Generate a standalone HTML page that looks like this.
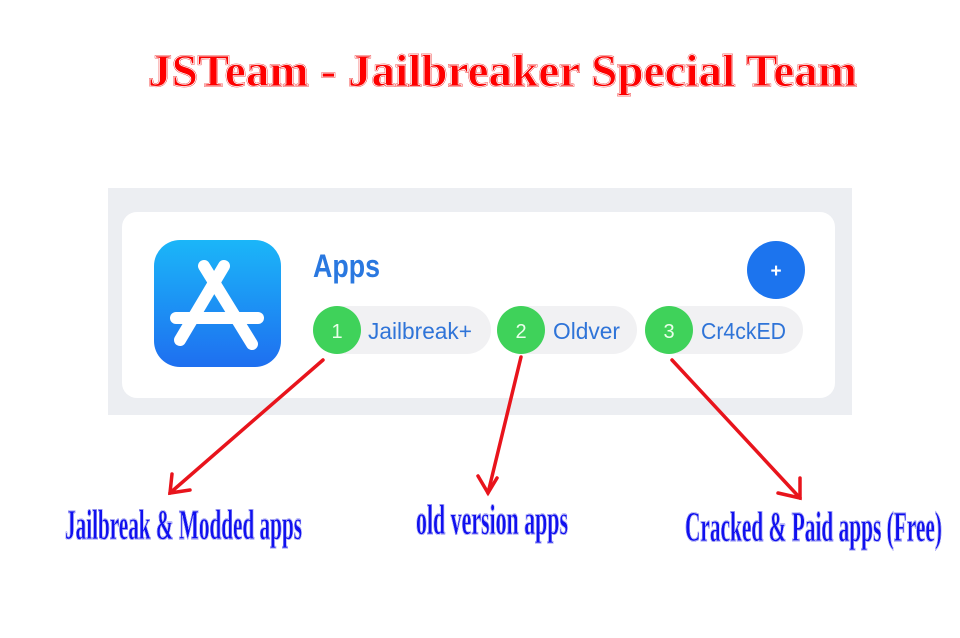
<!DOCTYPE html>
<html><head><meta charset="utf-8"><style>
html,body{margin:0;padding:0;background:#fff;width:960px;height:638px;overflow:hidden}
</style></head><body>
<svg width="960" height="638" viewBox="0 0 960 638" xmlns="http://www.w3.org/2000/svg">
<defs>
<linearGradient id="ic" x1="0" y1="0" x2="0" y2="1"><stop offset="0" stop-color="#1bb6f8"/><stop offset="1" stop-color="#1e6ff0"/></linearGradient>
</defs>
<rect width="960" height="638" fill="#fff"/>
<text x="148" y="86" font-family="Liberation Serif, serif" font-weight="bold" font-size="46" fill="#f00" stroke="#e00" stroke-width="1.5" textLength="709" lengthAdjust="spacingAndGlyphs">JSTeam - Jailbreaker Special Team</text>
<text x="148" y="86" font-family="Liberation Serif, serif" font-weight="bold" font-size="46" fill="none" stroke="#fff" stroke-width="0.8" textLength="709" lengthAdjust="spacingAndGlyphs">JSTeam - Jailbreaker Special Team</text>
<rect x="108" y="188" width="744" height="227" fill="#eceef2"/>
<rect x="122" y="212" width="713" height="186" rx="15" fill="#fff"/>
<rect x="154" y="240" width="127" height="127" rx="26" fill="url(#ic)"/>
<g stroke="#fff" stroke-width="12" stroke-linecap="round" fill="none">
<line x1="224" y1="266" x2="180" y2="340"/>
<line x1="204" y1="266" x2="252" y2="344"/>
<line x1="176" y1="318" x2="258" y2="318"/>
</g>
<text x="313" y="277" font-family="Liberation Sans, sans-serif" font-weight="bold" font-size="32" fill="#2a78e0" textLength="67" lengthAdjust="spacingAndGlyphs">Apps</text>
<circle cx="776" cy="270" r="29" fill="#1c74ee"/>
<text x="776" y="277" text-anchor="middle" font-family="Liberation Sans, sans-serif" font-weight="bold" font-size="19" fill="#fff">+</text>
<rect x="313" y="306" width="178" height="48" rx="24" fill="#f1f1f3"/>
<rect x="497" y="306" width="140" height="48" rx="24" fill="#f1f1f3"/>
<rect x="645" y="306" width="158" height="48" rx="24" fill="#f1f1f3"/>
<circle cx="337" cy="330" r="24" fill="#3fd25a"/>
<circle cx="521" cy="330" r="24" fill="#3fd25a"/>
<circle cx="669" cy="330" r="24" fill="#3fd25a"/>
<g font-family="Liberation Sans, sans-serif" font-size="20" fill="#eaffea" text-anchor="middle">
<text x="337" y="338">1</text><text x="521" y="338">2</text><text x="669" y="338">3</text></g>
<g font-family="Liberation Sans, sans-serif" font-size="23" fill="#2f74d8">
<text x="368" y="339" textLength="104" lengthAdjust="spacingAndGlyphs">Jailbreak+</text>
<text x="553" y="339" textLength="67" lengthAdjust="spacingAndGlyphs">Oldver</text>
<text x="701" y="339" textLength="85" lengthAdjust="spacingAndGlyphs">Cr4ckED</text></g>
<g stroke="#e8141c" stroke-width="3.5" fill="none" stroke-linecap="round">
<line x1="323" y1="360" x2="170" y2="493"/>
<polyline points="172,474 170,493 190,490"/>
<line x1="521" y1="357" x2="488" y2="493"/>
<polyline points="478,476 488,493 497,478"/>
<line x1="672" y1="360" x2="800" y2="498"/>
<polyline points="778,493 800,498 800,478"/>
</g>
<g font-family="Liberation Serif, serif" font-weight="bold" font-size="42" fill="#1010f0" stroke="#0000dd" stroke-width="1">
<text x="65" y="539" textLength="237" lengthAdjust="spacingAndGlyphs">Jailbreak &amp; Modded apps</text>
<text x="416" y="534" textLength="152" lengthAdjust="spacingAndGlyphs">old version apps</text>
<text x="685" y="541" textLength="257" lengthAdjust="spacingAndGlyphs">Cracked &amp; Paid apps (Free)</text>
</g>
<g font-family="Liberation Serif, serif" font-weight="bold" font-size="42" fill="none" stroke="#fff" stroke-width="0.6">
<text x="65" y="539" textLength="237" lengthAdjust="spacingAndGlyphs">Jailbreak &amp; Modded apps</text>
<text x="416" y="534" textLength="152" lengthAdjust="spacingAndGlyphs">old version apps</text>
<text x="685" y="541" textLength="257" lengthAdjust="spacingAndGlyphs">Cracked &amp; Paid apps (Free)</text>
</g>
</svg>
</body></html>
